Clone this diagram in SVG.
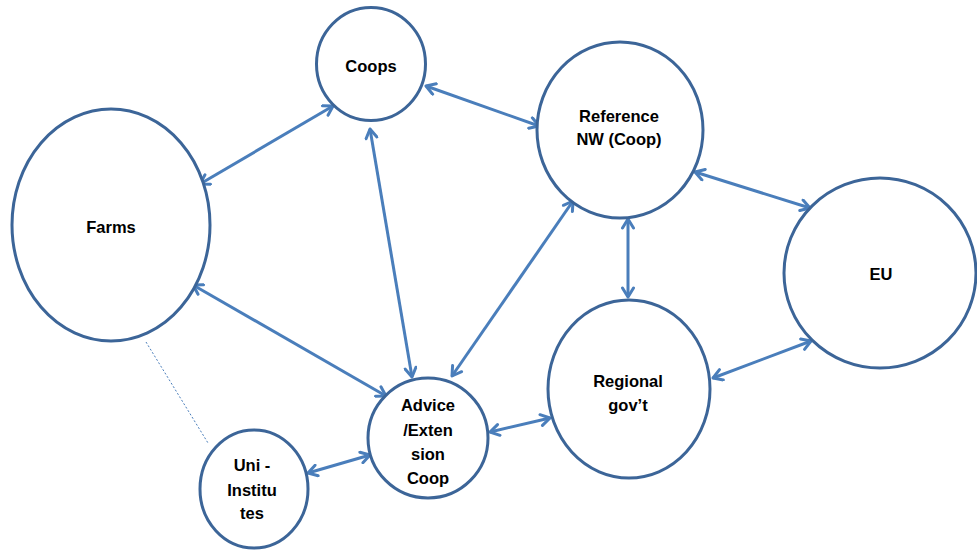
<svg xmlns="http://www.w3.org/2000/svg" width="977" height="551" viewBox="0 0 977 551">
<style>
.node{fill:#fff;stroke:#3C6598;stroke-width:3}
.lbl{font-family:"Liberation Sans",Arial,sans-serif;font-weight:bold;font-size:16.5px;fill:#000;text-anchor:middle}
.arr{stroke:#4A7EBB;stroke-width:3;fill:none;marker-start:url(#ah);marker-end:url(#ah)}
.dash{stroke:#4A7EBB;stroke-width:1;stroke-dasharray:2 2;fill:none}
</style>
<defs>
<marker id="ah" viewBox="0 0 14 14" refX="12" refY="7" markerWidth="14" markerHeight="14" markerUnits="userSpaceOnUse" orient="auto-start-reverse">
<path d="M3,1.5 L12,7 L3,12.5" fill="none" stroke="#4A7EBB" stroke-width="3" stroke-linecap="round" stroke-linejoin="round"/>
</marker>
</defs>
<rect width="977" height="551" fill="#fff"/>
<g id="connectors">
<line class="arr" x1="200" y1="184" x2="333" y2="106"/>
<line class="arr" x1="193" y1="285" x2="386" y2="396"/>
<line class="arr" x1="370" y1="129" x2="412" y2="377"/>
<line class="arr" x1="426" y1="86" x2="539" y2="126"/>
<line class="arr" x1="452" y1="376" x2="573" y2="201"/>
<line class="arr" x1="695" y1="172" x2="810" y2="208"/>
<line class="arr" x1="628" y1="219" x2="628" y2="297"/>
<line class="arr" x1="713" y1="378" x2="811" y2="341"/>
<line class="arr" x1="490" y1="432" x2="550" y2="418"/>
<line class="arr" x1="308" y1="473" x2="370" y2="455"/>
<line class="dash" x1="146" y1="342" x2="208" y2="443"/>
</g>
<g id="farms"><ellipse class="node" cx="111" cy="225" rx="99" ry="116"/><text class="lbl" x="111" y="233">Farms</text></g>
<g id="coops"><ellipse class="node" cx="371" cy="64" rx="54.5" ry="56.5"/><text class="lbl" x="371" y="72">Coops</text></g>
<g id="reference"><ellipse class="node" cx="620" cy="130" rx="83" ry="88"/><text class="lbl" x="619" y="122">Reference</text><text class="lbl" x="619" y="145">NW (Coop)</text></g>
<g id="eu"><ellipse class="node" cx="880" cy="273" rx="96" ry="95"/><text class="lbl" x="881" y="280">EU</text></g>
<g id="regional"><ellipse class="node" cx="629" cy="389" rx="81" ry="89"/><text class="lbl" x="628" y="387">Regional</text><text class="lbl" x="628" y="411">gov’t</text></g>
<g id="advice"><ellipse class="node" cx="428" cy="438" rx="60" ry="60"/><text class="lbl" x="428" y="411">Advice</text><text class="lbl" x="428" y="436">/Exten</text><text class="lbl" x="428" y="460">sion</text><text class="lbl" x="428" y="484">Coop</text></g>
<g id="uni"><ellipse class="node" cx="254" cy="489" rx="54" ry="59"/><text class="lbl" x="252" y="471">Uni -</text><text class="lbl" x="252" y="496">Institu</text><text class="lbl" x="252" y="519">tes</text></g>
</svg>
